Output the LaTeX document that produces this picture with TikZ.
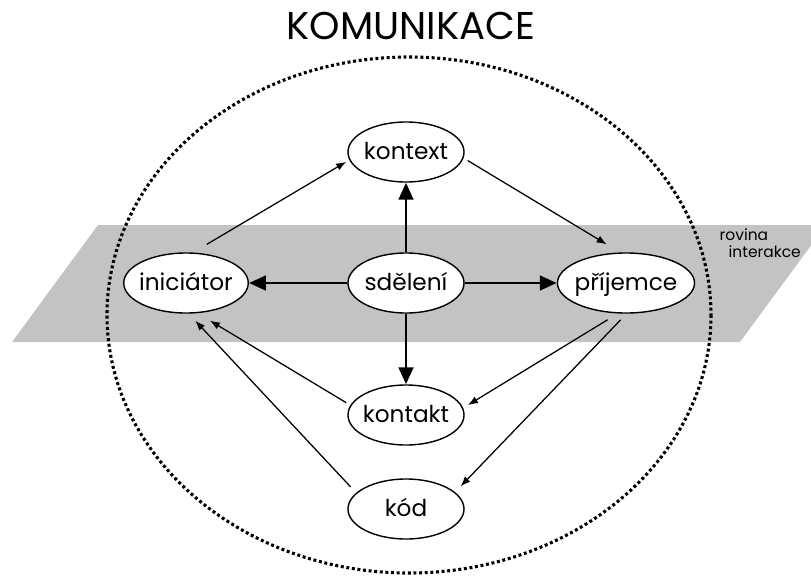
\documentclass[tikz,border=0pt]{standalone}
\usepackage{fontspec}
\setmainfont{Poppins}
\usetikzlibrary{shapes.geometric}
\usetikzlibrary{arrows.meta}
\definecolor{PlaneGray}{RGB}{195,195,195}

\begin{document}
\begin{tikzpicture}[x=0.025cm, y=-0.025cm, >=latex,
    every node/.style={inner sep=1pt},
    pojem/.style={ellipse, draw, line width=1pt, fill=white, minimum width=2.9cm, minimum height=1.5cm,
      inner xsep=-2pt, inner ysep=0pt, text height=13pt, text depth=3pt, font=\fontsize{16.5}{18}\selectfont},
    hlavni/.style={line width=2.1pt, -{Triangle[length=4.2mm, width=3.6mm]}},
    vedlejsi/.style={line width=0.9pt, -{Latex[length=2.5mm, width=1.9mm]}}]
      \useasboundingbox (0,0) rectangle (811,581);
      \clip (0,0) rectangle (811,581);

      % rovina interakce
      \fill[PlaneGray] (98,225) -- (826,225) -- (740,342) -- (12,342) -- cycle;
      \node[anchor=base west, font=\fontsize{11}{13}\selectfont] at (718,240) (rov) {rovina};
      \node[anchor=base west, font=\fontsize{11}{13}\selectfont] at (727,257) (int) {interakce};

      % hranice komunikace
      \draw[line width=2.2pt, dash pattern=on 2.1pt off 1.9pt] (409,315) ellipse [x radius=302, y radius=258];

      \node[font=\fontsize{27.5}{31}\selectfont] at (411,26) (nadpis) {KOMUNIKACE};

      \node[pojem] at (406,152) (kon) {kontext};
      \node[pojem] at (186,283) (ini) {iniciátor};
      \node[pojem] at (406,283) (sdel) {sdělení};
      \node[pojem] at (626,283) (pri) {příjemce};
      \node[pojem] at (406,415) (kontakt) {kontakt};
      \node[pojem] at (406,509) (kod) {kód};

      \foreach \cil in {kon, ini, pri, kontakt}
      \draw[hlavni] (sdel) -- (\cil);

      \draw[vedlejsi, shorten <=0.4cm, shorten >=0.09cm] (ini.77) -- (kon.188);
      \draw[vedlejsi, shorten <=0.12cm, shorten >=0.39cm] (kon.-6) -- (pri.101);
      \draw[vedlejsi, shorten <=0.3cm, shorten >=0.14cm] (pri.255) -- (kontakt.7);
      \draw[vedlejsi, shorten <=0.21cm, shorten >=0.2cm] (pri.271) -- (kod.19);
      \draw[vedlejsi, shorten <=0.12cm, shorten >=0.36cm] (kontakt.170) -- (ini.291);
      \draw[vedlejsi, shorten <=0.2cm, shorten >=0.24cm] (kod.162) -- (ini.275);
    \end{tikzpicture}
\end{document}
